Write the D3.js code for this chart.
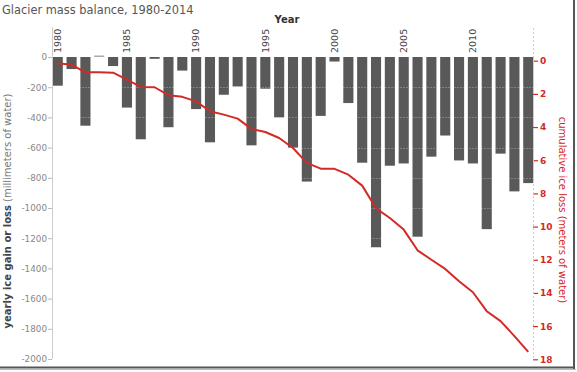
<!DOCTYPE html>
<html>
<head>
<meta charset="utf-8">
<script src="https://cdn.jsdelivr.net/npm/d3@7"></script>
<style>
  html, body { margin: 0; padding: 0; background: #fff; }
  svg { display: block; font-family: "DejaVu Sans", Verdana, sans-serif; }
</style>
</head>
<body>
<svg id="chart" width="577" height="372"></svg>
<script>
// ---- data ----
const years = [1980,1981,1982,1983,1984,1985,1986,1987,1988,1989,
               1990,1991,1992,1993,1994,1995,1996,1997,1998,1999,
               2000,2001,2002,2003,2004,2005,2006,2007,2008,2009,
               2010,2011,2012,2013,2014];
const annualBalance = [-190,-80,-455,10,-60,-335,-545,-12,-465,-90,
                       -345,-565,-250,-195,-585,-210,-400,-600,-825,-390,
                       -30,-305,-700,-1260,-720,-705,-1190,-660,-520,-685,
                       -705,-1140,-640,-890,-835];
const cumulativeLoss = [0.16,0.24,0.70,0.70,0.72,1.14,1.58,1.60,2.08,2.18,
                        2.45,3.05,3.25,3.49,4.11,4.30,4.66,5.26,6.16,6.51,
                        6.52,6.87,7.53,8.90,9.48,10.18,11.43,12.0,12.55,13.3,
                        13.96,15.1,15.7,16.6,17.55];
const xTickYears = [1980,1985,1990,1995,2000,2005,2010];
const leftTicks = [0,-200,-400,-600,-800,-1000,-1200,-1400,-1600,-1800,-2000];
const rightTicks = [0,2,4,6,8,10,12,14,16,18];
const titleText = "Glacier mass balance, 1980-2014";
const xLabel = "Year";
const yLabelBold = "yearly ice gain or loss";
const yLabelRest = " (millimeters of water)";
const y2Label = "cumulative ice loss (meters of water)";

// ---- drawing ----
const svg = d3.select("#chart");
const red = "#d42a26";

const x = d3.scaleBand().domain(years).range([52, 534]).paddingInner(0.27).paddingOuter(0.05);
const y = d3.scaleLinear().domain([-2000, 0]).range([359, 57]);
const yR = d3.scaleLinear().domain([0, 18]).range([60.7, 359.3]);

// title
svg.append("text").attr("x", 2).attr("y", 14)
  .attr("font-size", 11.4).attr("fill", "#555").text(titleText);

// x label
svg.append("text").attr("x", 287).attr("y", 23).attr("text-anchor", "middle")
  .attr("font-size", 10).attr("font-weight", "bold").attr("fill", "#333").text(xLabel);

// bars
svg.append("g").selectAll("rect").data(years).join("rect")
  .attr("x", d => x(d))
  .attr("width", x.bandwidth())
  .attr("y", (d, i) => y(Math.max(0, annualBalance[i])))
  .attr("height", (d, i) => Math.max(1, Math.abs(y(annualBalance[i]) - y(0))))
  .attr("fill", (d, i) => annualBalance[i] > 0 ? "#aaa" : "#595959");

// gridlines over bars (faint light)
svg.append("g").selectAll("line").data(leftTicks.filter(d => d !== 0)).join("line")
  .attr("x1", 52).attr("x2", 533)
  .attr("y1", d => Math.round(y(d)) + 0.5).attr("y2", d => Math.round(y(d)) + 0.5)
  .attr("stroke", "#fff").attr("stroke-opacity", 0.25).attr("stroke-dasharray", "2,1");

// left axis
const gL = svg.append("g").attr("transform", "translate(52,0)")
  .call(d3.axisLeft(y).tickValues(leftTicks).tickSize(4).tickFormat(d => String(d)));
gL.select(".domain").remove();
gL.selectAll(".tick line").attr("stroke", "#bbb");
gL.selectAll(".tick text").attr("fill", "#888").attr("font-size", 8.8)
  .attr("font-family", "DejaVu Sans, sans-serif").attr("x", -5);
svg.append("line").attr("x1", 52.5).attr("x2", 52.5).attr("y1", 27).attr("y2", 359)
  .attr("stroke", "#ccc");

// right axis
const gR = svg.append("g").attr("transform", "translate(533,0)")
  .call(d3.axisRight(yR).tickValues(rightTicks).tickSize(5));
gR.select(".domain").remove();
gR.selectAll(".tick line").attr("stroke", red).attr("stroke-width", 1.2);
gR.selectAll(".tick text").attr("fill", red).attr("font-size", 9)
  .attr("font-weight", "bold").attr("font-family", "DejaVu Sans, sans-serif").attr("x", 7);
svg.append("line").attr("x1", 533.5).attr("x2", 533.5).attr("y1", 28).attr("y2", 359)
  .attr("stroke", "#ccc").attr("stroke-dasharray", "2,2");

// top x axis labels
const gX = svg.append("g").attr("transform", "translate(0,53)")
  .call(d3.axisTop(x).tickValues(xTickYears).tickSize(0));
gX.select(".domain").remove();
gX.selectAll(".tick text")
  .attr("transform", "rotate(-90)")
  .attr("text-anchor", "start").attr("x", 0).attr("y", 0).attr("dy", "0.35em")
  .attr("fill", "#444").attr("font-size", 9.5).attr("font-family", "DejaVu Sans, sans-serif");

// cumulative line
const line = d3.line()
  .x((d, i) => x(years[i]) + x.bandwidth() / 2)
  .y(d => yR(d));
svg.append("path").datum(cumulativeLoss).attr("d", line)
  .attr("fill", "none").attr("stroke", red).attr("stroke-width", 2)
  .attr("stroke-linejoin", "round");

// axis titles
const tl = svg.append("text").attr("transform", "translate(11,211) rotate(-90)")
  .attr("text-anchor", "middle").attr("font-size", 10);
tl.append("tspan").attr("font-weight", "bold").attr("fill", "#444").text(yLabelBold);
tl.append("tspan").attr("fill", "#777").text(yLabelRest);

svg.append("text").attr("transform", "translate(559,210) rotate(90)")
  .attr("text-anchor", "middle").attr("font-size", 10).attr("fill", red).text(y2Label);

// frame shadow (right and bottom)
svg.append("line").attr("x1", 574).attr("x2", 574).attr("y1", 0).attr("y2", 369)
  .attr("stroke", "#555").attr("stroke-width", 2);
svg.append("line").attr("x1", 0).attr("x2", 575).attr("y1", 367.5).attr("y2", 367.5)
  .attr("stroke", "#555").attr("stroke-width", 2);
svg.append("line").attr("x1", 0).attr("x2", 576).attr("y1", 369.5).attr("y2", 369.5)
  .attr("stroke", "#bbb").attr("stroke-width", 1);
</script>
</body>
</html>
